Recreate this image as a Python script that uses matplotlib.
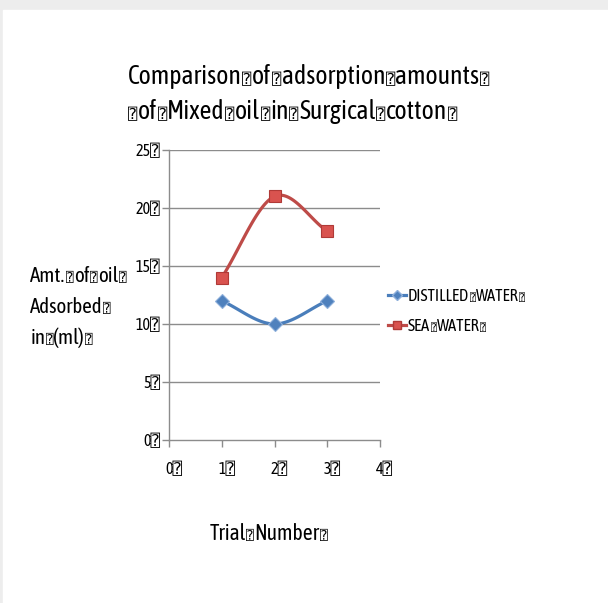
import numpy as np
import matplotlib
matplotlib.use("Agg")
import matplotlib.pyplot as plt
import matplotlib.transforms as mtransforms
from matplotlib.patches import Rectangle

# Data
trials = [1, 2, 3]
distilled_water = [12, 10, 12]
sea_water = [14, 21, 18]
x_ticks = [0, 1, 2, 3, 4]
y_ticks = [0, 5, 10, 15, 20, 25]
Q = "\u2370"
title_lines = ["Comparison" + Q + "of" + Q + "adsorption" + Q + "amounts" + Q,
               Q + "of" + Q + "Mixed" + Q + "oil" + Q + "in" + Q + "Surgical" + Q + "cotton" + Q]
ylabel_lines = ["Amt." + Q + "of" + Q + "oil" + Q, "Adsorbed" + Q, "in" + Q + "(ml)" + Q]
xlabel = "Trial" + Q + "Number" + Q
series_names = ["DISTILLED" + Q + "WATER" + Q, "SEA" + Q + "WATER" + Q]

MAIN = "Asap Condensed"
BOXFONT = "DejaVu Sans Mono"
FAM = [MAIN, BOXFONT, "DejaVu Sans"]
plt.rcParams["font.family"] = FAM

BLUE = "#4A7EBB"
RED = "#BE4B48"
GRID = "#8c8c8c"
W, H = 608, 603


def smooth(xs, ys, n=40):
    """Catmull-Rom style smoothing through the given points."""
    xs = np.asarray(xs, float)
    ys = np.asarray(ys, float)
    P = np.column_stack([xs, ys])
    P = np.vstack([P[0] - (P[1] - P[0]), P, P[-1] + (P[-1] - P[-2])])
    out = []
    for i in range(1, len(P) - 2):
        p0, p1, p2, p3 = P[i - 1], P[i], P[i + 1], P[i + 2]
        t = np.linspace(0, 1, n)[:, None]
        seg = 0.5 * ((2 * p1) + (-p0 + p2) * t + (2 * p0 - 5 * p1 + 4 * p2 - p3) * t ** 2
                     + (-p0 + 3 * p1 - 3 * p2 + p3) * t ** 3)
        out.append(seg)
    pts = np.vstack(out)
    return pts[:, 0], pts[:, 1]


fig = plt.figure(figsize=(W / 100, H / 100), dpi=100)
renderer = fig.canvas.get_renderer()


def draw_run(x_px, base_px, s, fontsize, ha="left", color="black"):
    """Draw a string whose placeholder characters are set as narrow boxes."""
    pieces = []
    cur = ""
    for ch in s:
        if ch == Q:
            if cur:
                pieces.append((cur, False))
                cur = ""
            pieces.append((ch, True))
        else:
            cur += ch
    if cur:
        pieces.append((cur, False))

    texts, advances = [], []
    for txt, is_box in pieces:
        if is_box:
            t = fig.text(0, 0, txt, family=[BOXFONT], fontsize=fontsize * 0.6,
                         va="baseline", ha="left", color=color)
        else:
            t = fig.text(0, 0, txt, family=FAM, fontsize=fontsize,
                         va="baseline", ha="left", color=color)
        texts.append(t)
        advances.append(t.get_window_extent(renderer).width + 0.5)
    total = sum(advances)
    x0 = x_px - (total / 2 if ha == "center" else total if ha == "right" else 0)
    x = x0
    for t, adv in zip(texts, advances):
        t.set_position((x / W, 1 - base_px / H))
        x += adv


fig.patches.append(Rectangle((0, 0), 1, 1, transform=fig.transFigure, color="#ededed", zorder=-10))
fig.patches.append(Rectangle((3 / W, 0), 1, 1 - 10 / H, transform=fig.transFigure,
                             color="white", zorder=-9))

ax = fig.add_axes([169 / W, 1 - 440 / H, 211 / W, 290 / H])
ax.set_xlim(0, 4)
ax.set_ylim(0, 25)

for yv in y_ticks[1:]:
    ax.axhline(yv, color=GRID, lw=1.0, zorder=1)

sx, sy = smooth(trials, distilled_water)
ax.plot(sx, sy, color=BLUE, lw=2.3, zorder=3, solid_capstyle="round")
ax.plot(trials, distilled_water, ls="none", marker="D", ms=7.5, mfc="#4F81BD",
        mec="#8FB0DB", mew=0.8, zorder=4)
sx, sy = smooth(trials, sea_water)
ax.plot(sx, sy, color=RED, lw=2.3, zorder=3, solid_capstyle="round")
ax.plot(trials, sea_water, ls="none", marker="s", ms=9, mfc="#D9534F",
        mec="#B03A37", mew=0.8, zorder=4)

for s in ["top", "right"]:
    ax.spines[s].set_visible(False)
for s in ["left", "bottom"]:
    ax.spines[s].set_color(GRID)
    ax.spines[s].set_linewidth(1.0)

ax.set_xticks(x_ticks)
ax.set_xticklabels([f"{v}{Q}" for v in x_ticks], fontsize=11.5)
ax.set_yticks(y_ticks)
ax.set_yticklabels([f"{v}{Q}" for v in y_ticks], fontsize=11.5)
ax.tick_params(axis="both", color=GRID, length=5, width=1.0, direction="out", pad=1)
ax.tick_params(axis="x", pad=10)
shift = mtransforms.ScaledTranslation(5 / 100, 0, fig.dpi_scale_trans)
for lab in ax.get_xticklabels():
    lab.set_transform(lab.get_transform() + shift)

draw_run(128, 84, title_lines[0], 18.5)
draw_run(128, 119, title_lines[1], 18.5)

for i, line in enumerate(ylabel_lines):
    draw_run(30, 282 + i * 31, line, 15)

draw_run(269, 540, xlabel, 15.5, ha="center")

# Legend
lx0, lx1 = 388 / W, 406 / W
for i, (name, col, mk, mfc, mec, ms) in enumerate([
        (series_names[0], BLUE, "D", "#4F81BD", "#8FB0DB", 5),
        (series_names[1], RED, "s", "#D9534F", "#B03A37", 6)]):
    base = 301 + i * 30
    yy = 1 - (base - 6) / H
    fig.add_artist(plt.Line2D([lx0, lx1], [yy, yy], color=col, lw=2.3, transform=fig.transFigure))
    fig.add_artist(plt.Line2D([(lx0 + lx1) / 2], [yy], marker=mk, ms=ms, mfc=mfc, mec=mec,
                              transform=fig.transFigure))
    draw_run(408, base, name, 12)

fig.savefig("out.png", dpi=100)
